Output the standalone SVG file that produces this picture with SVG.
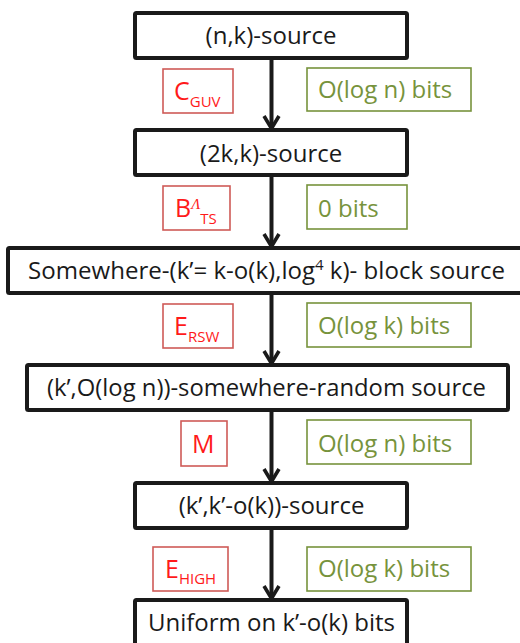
<svg xmlns="http://www.w3.org/2000/svg" width="520" height="643" viewBox="0 0 520 643">
<defs>
<style>
.node rect{fill:#fff;stroke:#1a1a1a;stroke-width:4}
.node text{font-family:"Open Sans","DejaVu Sans",sans-serif;font-size:24px;fill:#1a1a1a;text-anchor:middle}
.alg rect{fill:#fff;stroke:#cf5a57;stroke-width:1.6}
.alg text{font-family:"Open Sans","DejaVu Sans",sans-serif;font-size:25px;fill:#ff1a1a}
.alg .sub{font-size:15px}
.bits rect{fill:#fff;stroke:#77933c;stroke-width:1.6}
.bits text{font-family:"Open Sans","DejaVu Sans",sans-serif;font-size:24px;fill:#77933c}
.conn line{stroke:#1a1a1a;stroke-width:4}
</style>
<marker id="ah" markerUnits="userSpaceOnUse" markerWidth="20" markerHeight="20" viewBox="-16 -10 20 20" refX="0" refY="0" orient="auto">
<path d="M-14,-7.5 L-1.5,0 L-14,7.5" fill="none" stroke="#1a1a1a" stroke-width="3.6"/>
</marker>
</defs>
<rect width="520" height="643" fill="#fff"/>
<g class="conn">
<line x1="271.5" y1="58" x2="271.5" y2="130" marker-end="url(#ah)"/>
<line x1="271.5" y1="175" x2="271.5" y2="248" marker-end="url(#ah)"/>
<line x1="271.5" y1="293" x2="271.5" y2="365" marker-end="url(#ah)"/>
<line x1="271.5" y1="410" x2="271.5" y2="483" marker-end="url(#ah)"/>
<line x1="271.5" y1="528" x2="271.5" y2="600" marker-end="url(#ah)"/>
</g>
<g id="n1" class="node"><rect x="135" y="13" width="272" height="45" rx="1.5"/><text x="271" y="44">(n,k)-source</text></g>
<g id="n2" class="node"><rect x="135" y="130" width="272" height="45" rx="1.5"/><text x="271" y="162">(2k,k)-source</text></g>
<g id="n3" class="node"><rect x="8" y="248" width="526" height="45" rx="1.5"/><text x="266.5" y="279" textLength="477" lengthAdjust="spacingAndGlyphs">Somewhere-(k’= k-o(k),log<tspan font-size="15" dy="-9">4</tspan><tspan dy="9"> k)- block source</tspan></text></g>
<g id="n4" class="node"><rect x="27" y="365" width="481" height="45" rx="1.5"/><text x="266.5" y="396" textLength="439" lengthAdjust="spacingAndGlyphs">(k’,O(log n))-somewhere-random source</text></g>
<g id="n5" class="node"><rect x="135" y="483" width="272" height="45" rx="1.5"/><text x="271.5" y="514">(k’,k’-o(k))-source</text></g>
<g id="n6" class="node"><rect x="135" y="600" width="272" height="50" rx="1.5"/><text x="271.5" y="631">Uniform on k’-o(k) bits</text></g>
<g id="a1" class="alg"><rect x="163" y="69" width="70" height="44"/><text x="174" y="100">C<tspan class="sub" dy="7">GUV</tspan></text></g>
<g id="a2" class="alg"><rect x="163" y="186" width="67" height="44"/><text x="175" y="217">B<tspan font-family="'Liberation Serif',serif" font-style="italic" font-size="15" dy="-8">Λ</tspan><tspan class="sub" dy="15">TS</tspan></text></g>
<g id="a3" class="alg"><rect x="163" y="304" width="70" height="44"/><text x="174" y="335">E<tspan class="sub" dy="7">RSW</tspan></text></g>
<g id="a4" class="alg"><rect x="181" y="421" width="46" height="45"/><text x="192" y="453">M</text></g>
<g id="a5" class="alg"><rect x="153" y="547" width="75" height="44"/><text x="165" y="578">E<tspan class="sub" dy="6">HIGH</tspan></text></g>
<g id="b1" class="bits"><rect x="307" y="68" width="164" height="43"/><text x="318" y="98">O(log n) bits</text></g>
<g id="b2" class="bits"><rect x="307" y="185" width="100" height="44"/><text x="318" y="217">0 bits</text></g>
<g id="b3" class="bits"><rect x="307" y="303" width="164" height="44"/><text x="318" y="334">O(log k) bits</text></g>
<g id="b4" class="bits"><rect x="307" y="420" width="164" height="44"/><text x="318" y="452">O(log n) bits</text></g>
<g id="b5" class="bits"><rect x="307" y="547" width="164" height="44"/><text x="318" y="577">O(log k) bits</text></g>
</svg>
